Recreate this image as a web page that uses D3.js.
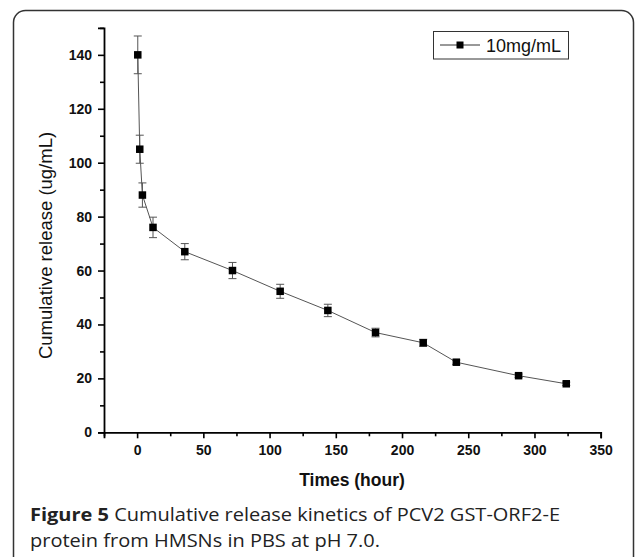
<!DOCTYPE html>
<html>
<head>
<meta charset="utf-8">
<script src="https://cdn.jsdelivr.net/npm/d3@7"></script>
<style>
  html, body { margin: 0; padding: 0; background: #fff; }
  svg { display: block; }
</style>
</head>
<body>
<svg id="chart" width="635" height="557"></svg>
<script>
// ---- data ----
const times = [0.5, 2, 4, 12, 36, 72, 108, 144, 180, 216, 241, 288, 324];
const release = [140, 105, 88, 76, 67, 60, 52.3, 45.2, 37, 33.2, 26, 21, 18];
const errors = [7, 5.2, 4.5, 3.8, 3, 3, 2.6, 2.3, 1.6, 1.3, 0.8, 0.6, 0.6];
const xTicks = [0, 50, 100, 150, 200, 250, 300, 350];
const yTicks = [0, 20, 40, 60, 80, 100, 120, 140];
const seriesName = "10mg/mL";
const xTitle = "Times (hour)";
const yTitle = "Cumulative release (ug/mL)";
const captionBold = "Figure 5";
const captionLine1 = " Cumulative release kinetics of PCV2 GST-ORF2-E";
const captionLine2 = "protein from HMSNs in PBS at pH 7.0.";

const points = times.map((t, i) => ({ t, v: release[i], e: errors[i] }));

const svg = d3.select("#chart");

// frame (rounded border)
svg.append("rect")
  .attr("x", 13.5).attr("y", 10.5)
  .attr("width", 620).attr("height", 570)
  .attr("rx", 12).attr("ry", 12)
  .attr("fill", "none").attr("stroke", "#333").attr("stroke-width", 1.5);

const x = d3.scaleLinear().domain([-25, 350]).range([104, 600.7]);
const y = d3.scaleLinear().domain([0, 150]).range([432.3, 27.9]);

const axisFont = "'Liberation Sans', Arial, sans-serif";

// x axis
const xAxis = svg.append("g").attr("transform", `translate(0,${y(0)})`);
xAxis.call(d3.axisBottom(x).tickValues(xTicks).tickSize(6).tickPadding(7).tickFormat(d3.format("d")));
xAxis.append("g").call(d3.axisBottom(x).tickValues([-25, 25, 75, 125, 175, 225, 275, 325]).tickSize(4).tickFormat(""))
  .select(".domain").remove();
xAxis.selectAll(".domain").attr("stroke-width", 1.8);
xAxis.selectAll(".tick line").attr("stroke-width", 1.6);
xAxis.selectAll("text").attr("font-family", axisFont).attr("font-size", 14).attr("font-weight", "bold").attr("fill", "#111");

// y axis
const yAxis = svg.append("g").attr("transform", `translate(${x(-25)},0)`);
yAxis.call(d3.axisLeft(y).tickValues(yTicks).tickSize(6).tickPadding(6).tickFormat(d3.format("d")));
yAxis.append("g").call(d3.axisLeft(y).tickValues([10, 30, 50, 70, 90, 110, 130, 150]).tickSize(4).tickFormat(""))
  .select(".domain").remove();
yAxis.selectAll(".domain").attr("stroke-width", 1.8);
yAxis.selectAll(".tick line").attr("stroke-width", 1.6);
yAxis.selectAll("text").attr("font-family", axisFont).attr("font-size", 14).attr("font-weight", "bold").attr("fill", "#111");

// axis titles
svg.append("text")
  .attr("x", 352).attr("y", 486)
  .attr("text-anchor", "middle")
  .attr("font-family", axisFont).attr("font-size", 17.5).attr("font-weight", "bold").attr("fill", "#111")
  .text(xTitle);
svg.append("text")
  .attr("transform", `translate(52,245.5) rotate(-90)`)
  .attr("text-anchor", "middle")
  .attr("font-family", axisFont).attr("font-size", 18.5).attr("fill", "#111")
  .text(yTitle);

// line
svg.append("path")
  .datum(points)
  .attr("fill", "none").attr("stroke", "#555").attr("stroke-width", 1)
  .attr("d", d3.line().x(d => x(d.t)).y(d => y(d.v)));

// error bars
const eb = svg.append("g").attr("stroke", "#555").attr("stroke-width", 1);
eb.selectAll("line.v").data(points).join("line").attr("class", "v")
  .attr("x1", d => x(d.t)).attr("x2", d => x(d.t))
  .attr("y1", d => y(d.v + d.e)).attr("y2", d => y(d.v - d.e));
eb.selectAll("line.top").data(points).join("line").attr("class", "top")
  .attr("x1", d => x(d.t) - 4).attr("x2", d => x(d.t) + 4)
  .attr("y1", d => y(d.v + d.e)).attr("y2", d => y(d.v + d.e));
eb.selectAll("line.bot").data(points).join("line").attr("class", "bot")
  .attr("x1", d => x(d.t) - 4).attr("x2", d => x(d.t) + 4)
  .attr("y1", d => y(d.v - d.e)).attr("y2", d => y(d.v - d.e));

// markers
const ms = 7.5;
svg.append("g").selectAll("rect").data(points).join("rect")
  .attr("x", d => x(d.t) - ms / 2).attr("y", d => y(d.v) - ms / 2)
  .attr("width", ms).attr("height", ms)
  .attr("fill", "#000");

// legend
const lg = svg.append("g");
lg.append("rect").attr("x", 433.5).attr("y", 31.5).attr("width", 135).attr("height", 27.5)
  .attr("fill", "#fff").attr("stroke", "#333").attr("stroke-width", 1);
lg.append("line").attr("x1", 440).attr("x2", 480).attr("y1", 45).attr("y2", 45)
  .attr("stroke", "#333").attr("stroke-width", 1);
lg.append("rect").attr("x", 456.5).attr("y", 41.5).attr("width", 7).attr("height", 7).attr("fill", "#000");
lg.append("text").attr("x", 486).attr("y", 52)
  .attr("font-family", axisFont).attr("font-size", 18).attr("fill", "#111")
  .text(seriesName);

// caption
const capFont = "'Open Sans', 'Noto Sans', sans-serif";
const cap = svg.append("text")
  .attr("x", 30).attr("y", 521)
  .attr("font-family", capFont).attr("font-size", 18).attr("fill", "#222")
  .attr("textLength", 530).attr("lengthAdjust", "spacingAndGlyphs");
cap.append("tspan").attr("font-weight", "bold").text(captionBold);
cap.append("tspan").text(captionLine1);
svg.append("text")
  .attr("x", 30).attr("y", 547)
  .attr("font-family", capFont).attr("font-size", 18).attr("fill", "#222")
  .attr("textLength", 350).attr("lengthAdjust", "spacingAndGlyphs")
  .text(captionLine2);
</script>
</body>
</html>
